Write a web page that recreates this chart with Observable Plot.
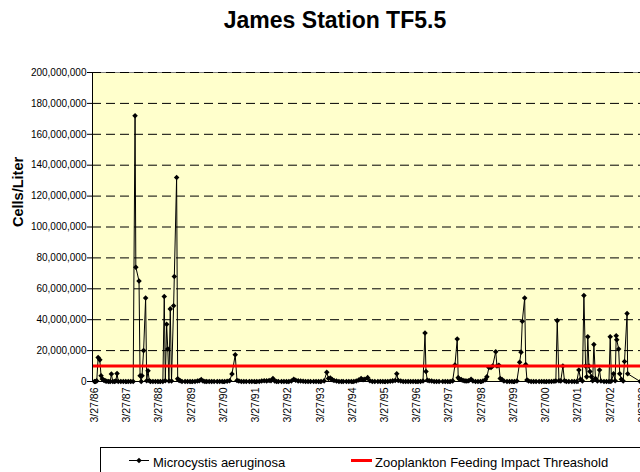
<!DOCTYPE html>
<html><head><meta charset="utf-8">
<script src="https://cdn.jsdelivr.net/npm/d3@7"></script>
<script src="https://cdn.jsdelivr.net/npm/@observablehq/plot@0.6"></script>
<style>
html,body{margin:0;padding:0;background:#fff;overflow:hidden;}
#wrap{position:relative;width:640px;height:472px;overflow:hidden;font-family:"Liberation Sans",Arial,sans-serif;color:#000;}
#title{position:absolute;left:0;top:0;width:670px;height:40px;line-height:40px;text-align:center;font-size:23px;font-weight:bold;}
#chart{position:absolute;left:0;top:40px;width:676px;}
#chart svg{max-width:none !important;}
#legend{position:absolute;left:100px;top:447px;width:640px;height:60px;border:1px solid #000;box-sizing:border-box;background:#fff;}
.lt{position:absolute;top:7px;font-size:13px;line-height:15px;white-space:nowrap;}
.sw{position:absolute;}
</style></head>
<body>
<div id="wrap">
  <div id="title"></div>
  <div id="chart"></div>
  <div id="legend"></div>
</div>
<script>
const chartTitle = "James Station TF5.5";
const yLabel = "Cells/Liter";
const seriesName = "Microcystis aeruginosa";
const thresholdName = "Zooplankton Feeding Impact Threashold";
const UNIT = 1e6; // values below are in millions of cells per liter
const thresholdValue = [10];
const yTicks = [0, 20, 40, 60, 80, 100, 120, 140, 160, 180, 200];
const xTickDates = ["1986-03-27","1987-03-27","1988-03-27","1989-03-27","1990-03-27","1991-03-27",
  "1992-03-27","1993-03-27","1994-03-27","1995-03-27","1996-03-27","1997-03-27","1998-03-27",
  "1999-03-27","2000-03-27","2001-03-27","2002-03-27","2003-03-27"];
const xDomain = ["1986-03-05", "2004-04-15"];

const samples1986to1989 = [
["1986-03-27",0],["1986-04-08",0],["1986-04-22",0.4],["1986-05-08",15.5],["1986-05-27",14],["1986-06-10",3.7],
["1986-06-24",1.6],["1986-07-10",0.9],["1986-07-28",0.4],["1986-08-14",0.2],["1986-09-04",0],["1986-09-22",0],
["1986-10-05",4.8],["1986-10-21",0],["1986-11-10",0],["1986-11-24",0.3],["1986-12-08",5.2],["1986-12-22",0],
["1987-01-20",0],["1987-02-17",0],["1987-03-17",0],["1987-04-14",0],["1987-05-12",0],["1987-06-09",0],
["1987-06-30",172],["1987-07-09",74],["1987-08-14",65],["1987-08-26",3.7],["1987-09-08",0],["1987-09-17",3.7],
["1987-10-05",20],["1987-10-28",54],["1987-11-09",0.5],["1987-11-24",7],["1987-12-08",0.5],["1987-12-22",0],
["1988-01-19",0],["1988-02-16",0],["1988-03-15",0],["1988-04-12",0],["1988-05-10",0],["1988-05-26",55],
["1988-06-07",0.5],["1988-06-22",37],["1988-07-05",21],["1988-07-18",0.3],["1988-08-02",47],["1988-08-16",0.3],
["1988-09-09",49],["1988-09-17",68],["1988-10-13",132],["1988-10-25",1.7],["1988-11-08",0.8],["1988-11-22",0.5],
["1988-12-13",0],["1989-01-17",0],["1989-02-14",0],["1989-03-14",0],["1989-04-11",0],["1989-05-09",0],
["1989-06-06",0.3],["1989-06-27",0.5],["1989-07-19",1.2],["1989-08-08",0.3],["1989-08-29",0],["1989-09-19",0],
["1989-10-17",0],["1989-11-14",0],["1989-12-12",0]
];
const samples1990to1995 = [
["1990-01-16",0],["1990-02-13",0],["1990-03-13",0],["1990-04-10",0],["1990-05-08",0.2],["1990-06-05",0.5],
["1990-07-02",4.8],["1990-08-08",17.3],["1990-08-28",0.6],["1990-09-18",0.3],["1990-10-16",0],["1990-11-13",0],["1990-12-11",0],
["1991-01-15",0],["1991-02-12",0],["1991-03-12",0],["1991-04-09",0],["1991-05-07",0],["1991-06-04",0.3],["1991-07-02",0.5],
["1991-07-30",0.4],["1991-08-27",0.6],["1991-09-17",0.5],["1991-10-09",2],["1991-10-29",0.4],["1991-11-19",0],["1991-12-10",0],
["1992-01-14",0],["1992-02-11",0],["1992-03-10",0],["1992-04-07",0],["1992-05-05",0.3],["1992-06-01",1.5],["1992-06-23",0.8],
["1992-07-21",0.4],["1992-08-18",0.3],["1992-09-15",0.2],["1992-10-13",0],["1992-11-10",0],["1992-12-08",0],
["1993-01-12",0],["1993-02-09",0],["1993-03-09",0],["1993-04-06",0],["1993-05-11",0.4],["1993-06-10",6],["1993-06-29",2],
["1993-07-20",2.2],["1993-08-10",1.2],["1993-08-31",0.6],["1993-09-28",0.3],["1993-10-26",0],["1993-11-23",0],["1993-12-14",0],
["1994-01-18",0],["1994-02-15",0],["1994-03-15",0],["1994-04-12",0],["1994-05-10",0.3],["1994-06-07",1],["1994-07-04",2],
["1994-07-26",1.2],["1994-08-16",1.5],["1994-09-16",2.5],["1994-10-11",0.5],["1994-11-08",0],["1994-12-06",0],
["1995-01-10",0],["1995-02-07",0],["1995-03-07",0],["1995-04-04",0],["1995-05-02",0],["1995-05-30",0.2],["1995-06-27",0.4],
["1995-07-25",0.6],["1995-08-12",5],["1995-08-29",0.6],["1995-09-26",0.3],["1995-10-24",0],["1995-11-21",0],["1995-12-19",0]
];
const samples1996to2003 = [
["1996-01-16",0],["1996-02-13",0],["1996-03-12",0],["1996-04-09",0],["1996-05-07",0],["1996-06-04",0.3],["1996-06-27",31.4],
["1996-07-08",6.5],["1996-07-23",0.8],["1996-08-13",0.5],["1996-09-10",0.3],["1996-10-08",0],["1996-11-05",0],["1996-12-03",0],
["1997-01-14",0],["1997-02-11",0],["1997-03-11",0],["1997-04-08",0],["1997-05-06",0.4],["1997-06-01",10.6],["1997-06-27",27.5],
["1997-07-08",2.5],["1997-07-22",1.5],["1997-08-12",1.2],["1997-09-02",0.6],["1997-09-23",0.4],["1997-10-14",0.3],["1997-11-04",0.5],
["1997-12-01",1.5],["1997-12-22",0.3],
["1998-01-20",0],["1998-02-17",0],["1998-03-17",0],["1998-04-14",0.3],["1998-05-12",1.2],["1998-05-29",3],["1998-06-21",9],
["1998-07-15",9],["1998-08-02",10],["1998-09-06",19.3],["1998-09-20",10],["1998-10-12",10.5],["1998-10-27",2],["1998-11-17",1.2],["1998-12-08",0.3],
["1999-01-12",0],["1999-02-09",0],["1999-03-09",0],["1999-04-06",0],["1999-05-04",0.3],["1999-06-04",12.4],["1999-06-20",19],
["1999-07-04",39],["1999-07-31",54],["1999-08-12",11],["1999-08-26",1],["1999-09-14",0.3],["1999-10-12",0],["1999-11-09",0],["1999-12-07",0],
["2000-01-11",0],["2000-02-08",0],["2000-03-07",0],["2000-04-04",0],["2000-05-02",0],["2000-05-30",0],["2000-06-27",0.2],
["2000-07-18",0.3],["2000-08-03",39.4],["2000-08-22",0.5],["2000-09-12",0.4],["2000-10-06",10],["2000-10-24",0.5],["2000-11-14",0],["2000-12-12",0],
["2001-01-16",0],["2001-02-13",0],["2001-03-13",0],["2001-04-05",7.5],["2001-04-24",1.5],["2001-05-15",0.3],["2001-06-01",55.6],
["2001-06-20",10],["2001-07-03",3],["2001-07-15",29],["2001-07-28",10],["2001-08-08",6.5],["2001-08-25",3],["2001-09-08",0.5],
["2001-09-22",24],["2001-10-10",2],["2001-11-01",0.3],["2001-11-25",7.5],["2001-12-11",0.3],
["2002-01-15",0],["2002-02-12",0],["2002-03-12",0],["2002-03-26",29],["2002-04-09",0.3],["2002-05-03",5],["2002-05-21",0.5],
["2002-06-02",29.6],["2002-06-08",27],["2002-06-30",21],["2002-07-12",5],["2002-07-30",1.5],["2002-08-20",0.3],["2002-09-04",13],
["2002-10-03",44],["2002-10-10",5],["2003-03-01",0]
];

const toRows = arr => arr.map(([d, v]) => ({date: new Date(d), value: v}));
const series = [...toRows(samples1986to1989), ...toRows(samples1990to1995), ...toRows(samples1996to2003)];
const xStart = new Date(xDomain[0]);

document.getElementById("title").textContent = chartTitle;

const chart = Plot.plot({
  width: 676,
  height: 407,
  marginLeft: 92,
  marginRight: 0,
  marginTop: 32,
  marginBottom: 66,
  style: {fontFamily: "'Liberation Sans', Arial, sans-serif", background: "transparent", color: "#000", maxWidth: "none"},
  x: {type: "utc", domain: xDomain.map(d => new Date(d))},
  y: {domain: [yTicks[0], yTicks[yTicks.length - 1]]},
  marks: [
    Plot.frame({fill: "#FFFFCC", stroke: "#808080"}),
    Plot.ruleY(yTicks.filter(v => v > 0), {stroke: "#000", strokeWidth: 1, strokeDasharray: "9,5"}),
    Plot.line(series, {x: "date", y: "value", stroke: "#000", strokeWidth: 1}),
    Plot.dot(series, {x: "date", y: "value", symbol: "diamond2", r: 2.5, fill: "#000", stroke: "none"}),
    Plot.ruleY(thresholdValue, {stroke: "#FF0000", strokeWidth: 3}),
    Plot.ruleX([xStart], {stroke: "#000"}),
    Plot.ruleY([0], {stroke: "#000"}),
    Plot.axisY({ticks: yTicks, tickSize: 5, tickPadding: 1, fontSize: 10, label: null,
      tickFormat: d => d3.format(",")(d * UNIT)}),
    Plot.axisX({ticks: xTickDates.map(d => new Date(d)), tickFormat: d3.utcFormat("%-m/%-d/%y"),
      tickRotate: -90, tickSize: 3, tickPadding: 3, fontSize: 10.5, label: null}),
    Plot.text([yLabel], {text: d => d, frameAnchor: "left", rotate: -90, dx: -74, fontSize: 14.5, fontWeight: "bold"})
  ]
});
document.getElementById("chart").appendChild(chart);

// legend
const legend = document.getElementById("legend");
legend.innerHTML = `
  <svg class="sw" style="left:28px;top:8px" width="20" height="9">
    <line x1="0" x2="20" y1="4.5" y2="4.5" stroke="#000" stroke-width="1"/>
    <path d="M10,1.7L12.8,4.5L10,7.3L7.2,4.5Z" fill="#000"/>
  </svg>
  <span class="lt" style="left:52px"></span>
  <div class="sw" style="left:250px;top:11px;width:21px;height:3px;background:#FF0000"></div>
  <span class="lt" style="left:274px"></span>`;
const spans = legend.querySelectorAll(".lt");
spans[0].textContent = seriesName;
spans[1].textContent = thresholdName;
</script>
</body></html>
